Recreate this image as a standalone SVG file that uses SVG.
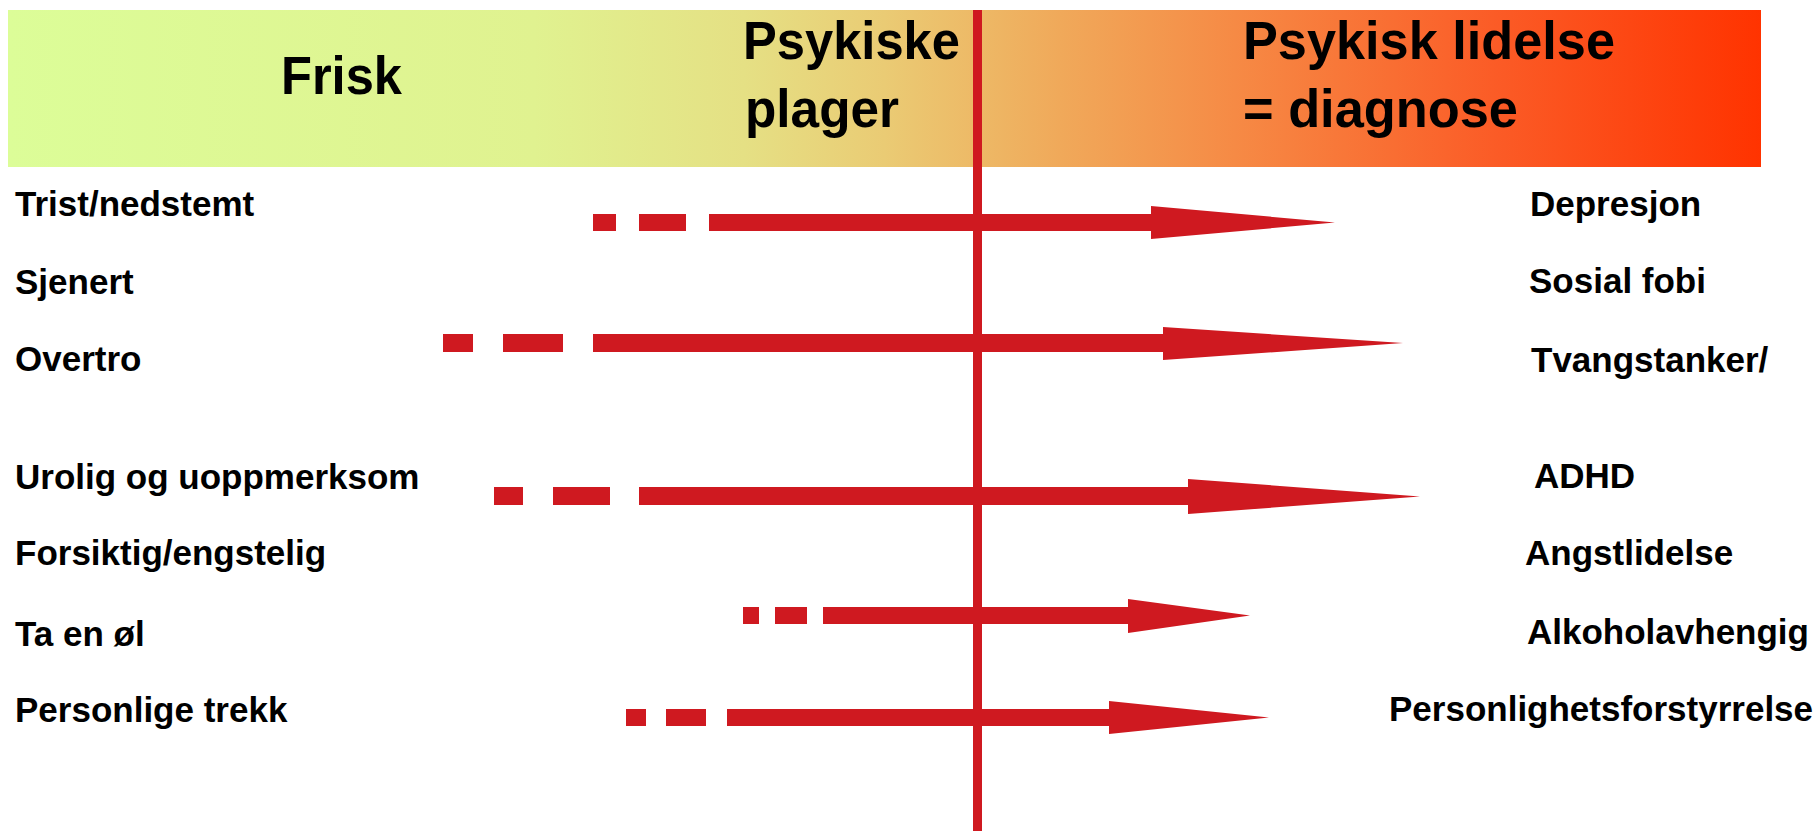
<svg xmlns="http://www.w3.org/2000/svg" width="1820" height="831" viewBox="0 0 1820 831">
<defs>
<linearGradient id="bandGrad" x1="0" y1="0" x2="1" y2="0">
<stop offset="0" stop-color="#DCFD98"/>
<stop offset="0.3" stop-color="#E0F290"/>
<stop offset="0.42" stop-color="#E5E084"/>
<stop offset="0.5" stop-color="#EACB74"/>
<stop offset="0.6" stop-color="#F0A95A"/>
<stop offset="0.7" stop-color="#F68A45"/>
<stop offset="0.85" stop-color="#FB5B26"/>
<stop offset="1" stop-color="#FF3300"/>
</linearGradient>
</defs>
<style>
.h{font-family:"Liberation Sans",Arial,sans-serif;font-weight:bold;font-size:54px;fill:#000}
.l{font-family:"Liberation Sans",Arial,sans-serif;font-weight:bold;font-size:35px;fill:#000}
.a{fill:#CF1920}
</style>
<rect width="1820" height="831" fill="#FFFFFF"/>
<g id="band">
<rect x="8" y="10" width="1753" height="157" fill="url(#bandGrad)"/>
<text class="h" x="281" y="94" textLength="121" lengthAdjust="spacingAndGlyphs">Frisk</text>
<text class="h" x="743" y="59" textLength="217" lengthAdjust="spacingAndGlyphs">Psykiske</text>
<text class="h" x="745" y="127" textLength="154" lengthAdjust="spacingAndGlyphs">plager</text>
<text class="h" x="1243" y="59" textLength="372" lengthAdjust="spacingAndGlyphs">Psykisk lidelse</text>
<text class="h" x="1243" y="127" textLength="275" lengthAdjust="spacingAndGlyphs">= diagnose</text>
</g>
<g id="divider">
<rect class="a" x="973" y="10" width="9" height="821"/>
</g>
<g id="left-labels">
<g id="n-trist"><text class="l" x="15" y="216">Trist/nedstemt</text></g>
<g id="n-sjenert"><text class="l" x="15" y="294">Sjenert</text></g>
<g id="n-overtro"><text class="l" x="15" y="371">Overtro</text></g>
<g id="n-urolig"><text class="l" x="15" y="489">Urolig og uoppmerksom</text></g>
<g id="n-forsiktig"><text class="l" x="15" y="565">Forsiktig/engstelig</text></g>
<g id="n-taenol"><text class="l" x="15" y="646">Ta en øl</text></g>
<g id="n-personlige"><text class="l" x="15" y="722">Personlige trekk</text></g>
</g>
<g id="right-labels">
<g id="n-depresjon"><text class="l" x="1530" y="216">Depresjon</text></g>
<g id="n-sosial"><text class="l" x="1529" y="293">Sosial fobi</text></g>
<g id="n-tvang"><text class="l" x="1531" y="372">Tvangstanker/</text></g>
<g id="n-adhd"><text class="l" x="1534" y="488">ADHD</text></g>
<g id="n-angst"><text class="l" x="1525" y="565">Angstlidelse</text></g>
<g id="n-alkohol"><text class="l" x="1527" y="644">Alkoholavhengig</text></g>
<g id="n-personlighet"><text class="l" x="1389" y="721">Personlighetsforstyrrelse</text></g>
</g>
<g id="connectors">
<g id="arrow1">
<rect class="a" x="593" y="214" width="23" height="17"/>
<rect class="a" x="639" y="214" width="47" height="17"/>
<polygon class="a" points="709,214 1151,214 1151,206 1335,222.5 1151,239 1151,231 709,231"/>
</g>
<g id="arrow2">
<rect class="a" x="443" y="334" width="30" height="18"/>
<rect class="a" x="503" y="334" width="60" height="18"/>
<polygon class="a" points="593,334 1163,334 1163,327 1403,343 1163,360 1163,352 593,352"/>
</g>
<g id="arrow3">
<rect class="a" x="494" y="487" width="29" height="18"/>
<rect class="a" x="553" y="487" width="57" height="18"/>
<polygon class="a" points="639,487 1188,487 1188,479 1420,496.5 1188,514 1188,505 639,505"/>
</g>
<g id="arrow4">
<rect class="a" x="743" y="607" width="16" height="17"/>
<rect class="a" x="775" y="607" width="32" height="17"/>
<polygon class="a" points="823,607 1128,607 1128,599 1250,615.5 1128,633 1128,624 823,624"/>
</g>
<g id="arrow5">
<rect class="a" x="626" y="709" width="20" height="17"/>
<rect class="a" x="666" y="709" width="40" height="17"/>
<polygon class="a" points="727,709 1109,709 1109,701 1269,717.5 1109,734 1109,726 727,726"/>
</g>
</g>
</svg>
